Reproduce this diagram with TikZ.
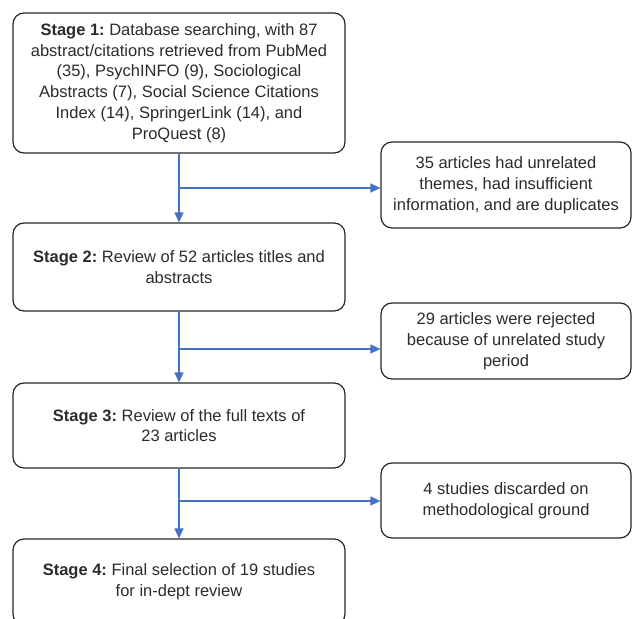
\documentclass[tikz,border=0pt]{standalone}
\usepackage{fontspec}
\setmainfont{Liberation Sans}
\usetikzlibrary{arrows.meta}
\definecolor{pfeil}{HTML}{4472C4}
\definecolor{schrift}{HTML}{2B2B2B}
\frenchspacing

\begin{document}
\begin{tikzpicture}[x=1bp, y=-1bp, line width=1.2bp,
    stagebox/.style={draw=black!85, rounded corners=11bp, minimum width=332bp,
        inner sep=0pt, align=center, text=schrift,
        font=\fontsize{16.5bp}{20.8bp}\selectfont},
    exclbox/.style={stagebox, minimum width=250bp},
    flow/.style={draw=pfeil, -{Triangle[length=10bp, width=9bp]}}]
    \useasboundingbox (0,0) rectangle (633,619);

    % Stufen.
    \node[stagebox, minimum height=140bp] (stage1) at (179,83)
        {\textbf{Stage 1:} Database searching, with 87\\abstract/citations retrieved from PubMed\\(35), PsychINFO (9), Sociological\\Abstracts (7), Social Science Citations\\Index (14), SpringerLink (14), and\\ProQuest (8)};
    \node[stagebox, minimum height=88bp] (stage2) at (179,267)
        {\textbf{Stage 2:} Review of 52 articles titles and\\abstracts};
    \node[stagebox, minimum height=85bp] (stage3) at (179,425.5)
        {\textbf{Stage 3:} Review of the full texts of\\23 articles};
    \node[stagebox, minimum height=86bp] (stage4) at (179,582)
        {\textbf{Stage 4:} Final selection of 19 studies\\for in-dept review};

    % Ausschluss.
    \node[exclbox, minimum height=86bp] (excl1) at (506,185)
        {35 articles had unrelated\\themes, had insufficient\\information, and are duplicates};
    \node[exclbox, minimum height=76bp] (excl2) at (506,341)
        {29 articles were rejected\\because of unrelated study\\period};
    \node[exclbox, minimum height=75bp] (excl3) at (506,500.5)
        {4 studies discarded on\\methodological ground};

    % Pfeile.
    \foreach \a/\b in {stage1/stage2, stage2/stage3, stage3/stage4}
    {
        \draw[flow] (\a.south) -- (\b.north);
    }
    \foreach \a/\b/\y in {stage1/excl1/188, stage2/excl2/349, stage3/excl3/501}
    {
        \coordinate (j\b) at (\a.south |- 0,\y);
        \draw[flow] (j\b) -- (j\b -| \b.west);
    }
\end{tikzpicture}
\end{document}
